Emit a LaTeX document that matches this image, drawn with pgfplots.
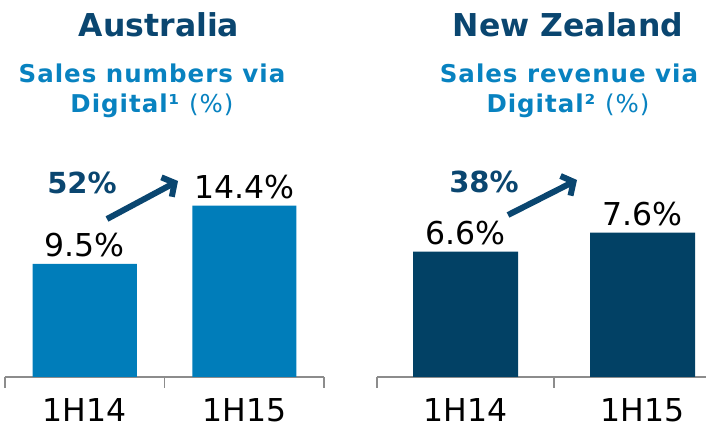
\documentclass[border=0pt]{standalone}
\usepackage{pgfplots}
\pgfplotsset{compat=1.18}
\usepackage{fontspec}
\setmainfont{DejaVu Sans}
\newfontfamily\subfont[LetterSpace=4]{DejaVu Sans}
\usetikzlibrary{arrows.meta}
\definecolor{lblue}{HTML}{007DBA}
\definecolor{dblue}{HTML}{024165}
\definecolor{titleblue}{HTML}{0A4670}
\definecolor{subblue}{HTML}{0882C0}
\definecolor{axgray}{HTML}{8C8C8C}
\begin{document}
\begin{tikzpicture}[x=1pt,y=1pt]
\useasboundingbox (0,0) rectangle (706,430);
\pgfplotsset{
  panel/.style={
    scale only axis, height=180pt, ymin=0,
    axis x line*=bottom, axis y line=none,
    x axis line style={axgray, line width=1.6pt},
    xtick={0,1}, xticklabels={1H14,1H15},
    major tick length=0pt,
    xtick align=outside,
    extra x tick style={major tick length=11pt, tick style={axgray, line width=1.6pt}},
    extra x tick labels={},
    xticklabel style={font=\fontsize{31.5}{31.5}\selectfont, anchor=base, inner sep=0pt, yshift=-45pt},
    ybar, bar shift=0pt,
    point meta=y,
    /pgf/number format/assume math mode=true,
    nodes near coords={\pgfmathprintnumber[fixed,precision=1,fixed zerofill]{\pgfplotspointmeta}\%},
    nodes near coords style={font=\fontsize{31.5}{31.5}\selectfont, black, anchor=base, yshift=7pt},
  }
}
\begin{axis}[panel, at={(5pt,53pt)}, anchor=south west, width=319pt,
  xmin=-0.5, xmax=1.5, ymax=15.13, bar width=104pt,
  extra x ticks={-0.5,0.5,1.5}]
\addplot[fill=lblue, draw=none] coordinates {(0,9.5) (1,14.4)};
\end{axis}
\begin{axis}[panel, at={(377pt,53pt)}, anchor=south west, width=329pt,
  xmin=-0.5, xmax=1.3588, ymax=9.47, bar width=105pt,
  extra x ticks={-0.5,0.5}]
\addplot[fill=dblue, draw=none] coordinates {(0,6.6) (1,7.6)};
\end{axis}
% titles
\node[anchor=base, font=\bfseries\fontsize{31.5}{31.5}\selectfont, text=titleblue] at (159,393) {Australia};
\node[anchor=base, font=\bfseries\fontsize{31.5}{31.5}\selectfont, text=titleblue] at (568,393) {New Zealand};
\node[anchor=base, font=\subfont\fontsize{24.5}{24.5}\selectfont, text=subblue] at (152,347) {\bfseries Sales numbers via};
\node[anchor=base, font=\subfont\fontsize{24.5}{24.5}\selectfont, text=subblue] at (152,317) {\textbf{Digital¹} (\%)};
\node[anchor=base, font=\subfont\fontsize{24.5}{24.5}\selectfont, text=subblue] at (569,347) {\bfseries Sales revenue via};
\node[anchor=base, font=\subfont\fontsize{24.5}{24.5}\selectfont, text=subblue] at (568,317) {\textbf{Digital²} (\%)};
% growth annotations
\draw[titleblue, line width=6pt, -{Straight Barb[length=9pt, width=22pt]}] (107,211) -- (178,249);
\draw[titleblue, line width=6pt, -{Straight Barb[length=9pt, width=22pt]}] (508,215) -- (577,250);
\node[font=\bfseries\fontsize{29}{29}\selectfont, text=titleblue] at (82,247) {52\%};
\node[font=\bfseries\fontsize{29}{29}\selectfont, text=titleblue] at (484,248) {38\%};
\end{tikzpicture}
\end{document}
